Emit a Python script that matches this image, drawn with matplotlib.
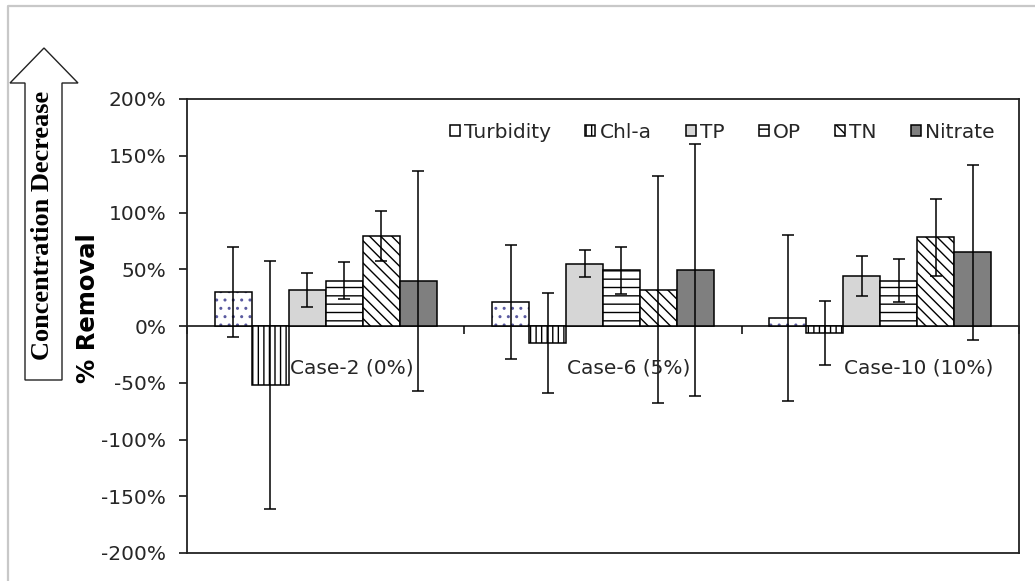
import matplotlib
matplotlib.use("Agg")
import matplotlib.pyplot as plt
import numpy as np
from matplotlib.patches import Polygon
from matplotlib.lines import Line2D

# values (% removal, mean +/- error)
cases = ["Case-2 (0%)", "Case-6 (5%)", "Case-10 (10%)"]
params = ["Turbidity", "Chl-a", "TP", "OP", "TN", "Nitrate"]

turbidity = [30, 21, 7]
chla = [-52, -15, -6]
tp = [32, 55, 44]
op = [40, 49, 40]
tn = [79, 32, 78]
nitrate = [40, 49, 65]

turbidity_err = [40, 50, 73]
chla_err = [109, 44, 28]
tp_err = [15, 12, 18]
op_err = [16, 21, 19]
tn_err = [22, 100, 34]
nitrate_err = [97, 111, 77]

yticks = [-200, -150, -100, -50, 0, 50, 100, 150, 200]

W, H = 1035, 581
FS = 14.5


def fx(px):
    return px / W


def fy(py):
    return 1 - py / H


plt.rcParams["hatch.linewidth"] = 1.0
plt.rcParams["font.family"] = "DejaVu Sans"

fig = plt.figure(figsize=(W / 100, H / 100), dpi=100)
ax = fig.add_axes([fx(187), fy(553), 832 / W, 454 / H])

series = [turbidity, chla, tp, op, tn, nitrate]
errors = [turbidity_err, chla_err, tp_err, op_err, tn_err, nitrate_err]
faces = ["none", "white", "#d6d6d6", "white", "white", "#7f7f7f"]
hatches = [None, "|||", None, "--", "\\\\\\", None]

x = np.arange(len(cases))
w = 1 / 7.5

# faint bluish dots under the Turbidity outline
ax.bar(x - 2.5 * w, turbidity, w, color="white", hatch="..",
       edgecolor="#5a5aa0", linewidth=0, zorder=1.5)

for k, (vals, errs) in enumerate(zip(series, errors)):
    ax.bar(x + (k - 2.5) * w, vals, w, color=faces[k], hatch=hatches[k],
           edgecolor="black", linewidth=1.1, label=params[k], zorder=2,
           yerr=errs, error_kw=dict(ecolor="black", elinewidth=1.1,
                                    capsize=4.5, capthick=1.1, zorder=3))

ax.set_xlim(-0.5, len(cases) - 0.5)
ax.set_ylim(-200, 200)
ax.set_yticks(yticks)
ax.set_yticklabels([f"{v}%" for v in yticks], fontsize=FS, color="#262626")
ax.tick_params(axis="y", direction="out", length=6, width=1.1, pad=9)
ax.tick_params(axis="x", bottom=False, labelbottom=False)
for s in ax.spines.values():
    s.set_linewidth(1.3)
    s.set_color("#222222")

# category axis drawn through 0%, ticks hanging below it
sec = ax.secondary_xaxis(0.5)
sec.set_xticks(np.arange(len(cases) + 1) - 0.5)
sec.set_xticklabels([])
sec.tick_params(direction="in", length=6, width=1.1)
for s in sec.spines.values():
    s.set_linewidth(1.1)

for i, c in enumerate(cases):
    ax.text(i - 0.5 + 0.37, -37, c, fontsize=FS, color="#262626",
            ha="left", va="center", zorder=4)

fig.legend(loc="center left", bbox_to_anchor=(fx(440), fy(132)), ncol=6,
           frameon=False, fontsize=FS, handlelength=0.5, handleheight=0.5,
           handletextpad=0.2, columnspacing=1.7, borderpad=0,
           labelcolor="#262626")

fig.text(fx(88), fy(308), "% Removal", rotation=90, fontsize=17.5,
         fontweight="bold", ha="center", va="center")

# "Concentration Decrease" arrow
arrow_px = [(44, 48), (78, 83), (62, 83), (62, 380), (25, 380), (25, 83), (10, 83)]
fig.patches.append(Polygon([(fx(a), fy(b)) for a, b in arrow_px], closed=True,
                           facecolor="white", edgecolor="#222222", linewidth=1.0,
                           transform=fig.transFigure))
fig.text(fx(43), fy(225), "Concentration Decrease", rotation=90, fontsize=19,
         fontweight="bold", family="Liberation Serif", ha="center", va="center")

# outer chart border (top and left visible)
fig.lines.append(Line2D([fx(8), fx(8), fx(1035)], [fy(581), fy(6), fy(6)],
                        color="#c8c8c8", linewidth=1.6, transform=fig.transFigure))

fig.savefig("out.png", dpi=100)
